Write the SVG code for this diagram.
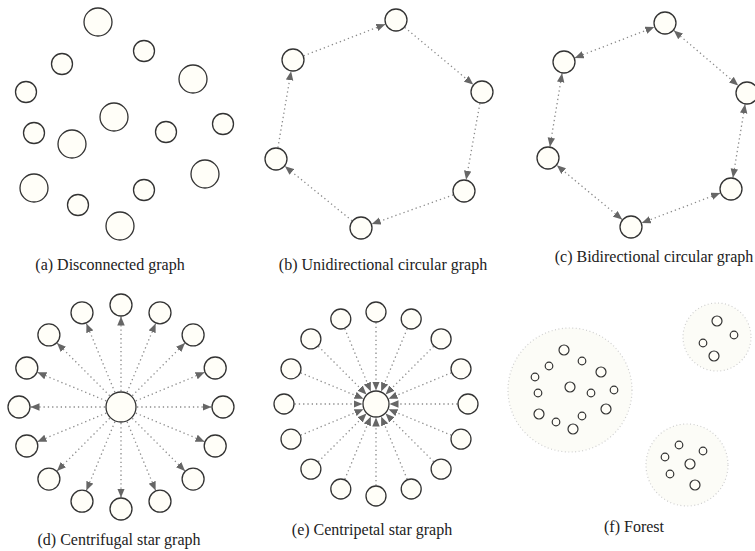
<svg xmlns="http://www.w3.org/2000/svg" width="755" height="551" viewBox="0 0 755 551">
<style>
.n{fill:#fffef8;stroke:#333;stroke-width:1.3}
.s{fill:#fffef8;stroke:#333;stroke-width:1.2}
.e{fill:none;stroke:#8a8a8a;stroke-width:1.3;stroke-dasharray:1.3 3}
.a{marker-end:url(#ah)}
.bi{marker-start:url(#ah);marker-end:url(#ah)}
.cl{fill:#fcfcf7;stroke:#cfcfcf;stroke-width:1.2;stroke-dasharray:1 2.5}
.lb{font-family:"Liberation Serif","Times New Roman",serif;font-size:16px;fill:#222;text-anchor:middle}
</style>
<defs>
<marker id="ah" markerUnits="userSpaceOnUse" markerWidth="9" markerHeight="8" refX="9" refY="3.75" orient="auto-start-reverse">
<path d="M0,0 L9,3.75 L0,7.5 z" fill="#666"/>
</marker>
</defs>
<rect width="755" height="551" fill="#fff"/>

<!-- (a) Disconnected graph -->
<g id="a1"><circle class="n" cx="98" cy="22" r="14"/></g>
<g id="a2"><circle class="n" cx="144" cy="51" r="10.5"/></g>
<g id="a3"><circle class="n" cx="62" cy="64" r="10.5"/></g>
<g id="a4"><circle class="n" cx="193" cy="79" r="14"/></g>
<g id="a5"><circle class="n" cx="26" cy="92" r="10.5"/></g>
<g id="a6"><circle class="n" cx="114" cy="117" r="14"/></g>
<g id="a7"><circle class="n" cx="34" cy="133" r="10.5"/></g>
<g id="a8"><circle class="n" cx="72" cy="144" r="14"/></g>
<g id="a9"><circle class="n" cx="166" cy="132" r="10.5"/></g>
<g id="a10"><circle class="n" cx="223" cy="124" r="10.5"/></g>
<g id="a11"><circle class="n" cx="205" cy="174" r="14"/></g>
<g id="a12"><circle class="n" cx="34" cy="188" r="14"/></g>
<g id="a13"><circle class="n" cx="144" cy="190" r="10.5"/></g>
<g id="a14"><circle class="n" cx="78" cy="205" r="10.5"/></g>
<g id="a15"><circle class="n" cx="120" cy="226" r="14"/></g>
<text class="lb" x="110" y="270">(a) Disconnected graph</text>

<!-- (b) Unidirectional circular graph -->
<g id="b-edges">
<line class="e a" x1="303.7" y1="55.8" x2="385.3" y2="24.2"/>
<line class="e a" x1="404.8" y1="27.4" x2="473.2" y2="84.6"/>
<line class="e a" x1="479.9" y1="103.3" x2="466.1" y2="179.7"/>
<line class="e a" x1="453.2" y1="194.9" x2="371.8" y2="224.1"/>
<line class="e a" x1="352.1" y1="220.8" x2="284.9" y2="166.2"/>
<line class="e a" x1="277.9" y1="147.7" x2="291.1" y2="71.3"/>
</g>
<g id="b1"><circle class="n" cx="293" cy="60" r="11"/></g>
<g id="b2"><circle class="n" cx="396" cy="20" r="11"/></g>
<g id="b3"><circle class="n" cx="482" cy="92" r="11"/></g>
<g id="b4"><circle class="n" cx="464" cy="191" r="11"/></g>
<g id="b5"><circle class="n" cx="361" cy="228" r="11"/></g>
<g id="b6"><circle class="n" cx="276" cy="159" r="11"/></g>
<text class="lb" x="383" y="270">(b) Unidirectional circular graph</text>

<!-- (c) Bidirectional circular graph -->
<g id="c-edges">
<line class="e bi" x1="673.8" y1="30.5" x2="738.2" y2="85.5"/>
<line class="e bi" x1="745.1" y1="104.3" x2="732.9" y2="177.7"/>
<line class="e bi" x1="720.2" y1="193.1" x2="641.8" y2="222.9"/>
<line class="e bi" x1="622.2" y1="219.6" x2="556.8" y2="165.3"/>
<line class="e bi" x1="549.9" y1="146.7" x2="562.1" y2="73.3"/>
<line class="e bi" x1="574.7" y1="57.9" x2="654.3" y2="27.1"/>
</g>
<g id="c1"><circle class="n" cx="665" cy="23" r="11"/></g>
<g id="c2"><circle class="n" cx="747" cy="93" r="11"/></g>
<g id="c3"><circle class="n" cx="731" cy="189" r="11"/></g>
<g id="c4"><circle class="n" cx="631" cy="227" r="11"/></g>
<g id="c5"><circle class="n" cx="548" cy="158" r="11"/></g>
<g id="c6"><circle class="n" cx="564" cy="62" r="11"/></g>
<text class="lb" x="654" y="262">(c) Bidirectional circular graph</text>

<!-- (d) Centrifugal star graph -->
<g id="d-edges" transform="translate(121 407)">
<line class="e a" x1="16" y1="0" x2="90.5" y2="0" transform="rotate(0)"/>
<line class="e a" x1="16" y1="0" x2="90.5" y2="0" transform="rotate(22.5)"/>
<line class="e a" x1="16" y1="0" x2="90.5" y2="0" transform="rotate(45)"/>
<line class="e a" x1="16" y1="0" x2="90.5" y2="0" transform="rotate(67.5)"/>
<line class="e a" x1="16" y1="0" x2="90.5" y2="0" transform="rotate(90)"/>
<line class="e a" x1="16" y1="0" x2="90.5" y2="0" transform="rotate(112.5)"/>
<line class="e a" x1="16" y1="0" x2="90.5" y2="0" transform="rotate(135)"/>
<line class="e a" x1="16" y1="0" x2="90.5" y2="0" transform="rotate(157.5)"/>
<line class="e a" x1="16" y1="0" x2="90.5" y2="0" transform="rotate(180)"/>
<line class="e a" x1="16" y1="0" x2="90.5" y2="0" transform="rotate(202.5)"/>
<line class="e a" x1="16" y1="0" x2="90.5" y2="0" transform="rotate(225)"/>
<line class="e a" x1="16" y1="0" x2="90.5" y2="0" transform="rotate(247.5)"/>
<line class="e a" x1="16" y1="0" x2="90.5" y2="0" transform="rotate(270)"/>
<line class="e a" x1="16" y1="0" x2="90.5" y2="0" transform="rotate(292.5)"/>
<line class="e a" x1="16" y1="0" x2="90.5" y2="0" transform="rotate(315)"/>
<line class="e a" x1="16" y1="0" x2="90.5" y2="0" transform="rotate(337.5)"/>
</g>
<g id="d0"><circle class="n" cx="121" cy="407" r="15"/></g>
<g id="d1"><circle class="n" cx="223" cy="407" r="11"/></g>
<g id="d2"><circle class="n" cx="215.2" cy="446" r="11"/></g>
<g id="d3"><circle class="n" cx="193.1" cy="479.1" r="11"/></g>
<g id="d4"><circle class="n" cx="160" cy="501.2" r="11"/></g>
<g id="d5"><circle class="n" cx="121" cy="509" r="11"/></g>
<g id="d6"><circle class="n" cx="82" cy="501.2" r="11"/></g>
<g id="d7"><circle class="n" cx="48.9" cy="479.1" r="11"/></g>
<g id="d8"><circle class="n" cx="26.8" cy="446" r="11"/></g>
<g id="d9"><circle class="n" cx="19" cy="407" r="11"/></g>
<g id="d10"><circle class="n" cx="26.8" cy="368" r="11"/></g>
<g id="d11"><circle class="n" cx="48.9" cy="334.9" r="11"/></g>
<g id="d12"><circle class="n" cx="82" cy="312.8" r="11"/></g>
<g id="d13"><circle class="n" cx="121" cy="305" r="11"/></g>
<g id="d14"><circle class="n" cx="160" cy="312.8" r="11"/></g>
<g id="d15"><circle class="n" cx="193.1" cy="334.9" r="11"/></g>
<g id="d16"><circle class="n" cx="215.2" cy="368" r="11"/></g>
<text class="lb" x="119" y="545">(d) Centrifugal star graph</text>

<!-- (e) Centripetal star graph -->
<g id="e-edges" transform="translate(376 404)">
<line class="e a" x1="81.5" y1="0" x2="13.5" y2="0" transform="rotate(0)"/>
<line class="e a" x1="81.5" y1="0" x2="13.5" y2="0" transform="rotate(22.5)"/>
<line class="e a" x1="81.5" y1="0" x2="13.5" y2="0" transform="rotate(45)"/>
<line class="e a" x1="81.5" y1="0" x2="13.5" y2="0" transform="rotate(67.5)"/>
<line class="e a" x1="81.5" y1="0" x2="13.5" y2="0" transform="rotate(90)"/>
<line class="e a" x1="81.5" y1="0" x2="13.5" y2="0" transform="rotate(112.5)"/>
<line class="e a" x1="81.5" y1="0" x2="13.5" y2="0" transform="rotate(135)"/>
<line class="e a" x1="81.5" y1="0" x2="13.5" y2="0" transform="rotate(157.5)"/>
<line class="e a" x1="81.5" y1="0" x2="13.5" y2="0" transform="rotate(180)"/>
<line class="e a" x1="81.5" y1="0" x2="13.5" y2="0" transform="rotate(202.5)"/>
<line class="e a" x1="81.5" y1="0" x2="13.5" y2="0" transform="rotate(225)"/>
<line class="e a" x1="81.5" y1="0" x2="13.5" y2="0" transform="rotate(247.5)"/>
<line class="e a" x1="81.5" y1="0" x2="13.5" y2="0" transform="rotate(270)"/>
<line class="e a" x1="81.5" y1="0" x2="13.5" y2="0" transform="rotate(292.5)"/>
<line class="e a" x1="81.5" y1="0" x2="13.5" y2="0" transform="rotate(315)"/>
<line class="e a" x1="81.5" y1="0" x2="13.5" y2="0" transform="rotate(337.5)"/>
</g>
<g id="e0"><circle class="n" cx="376" cy="404" r="13"/></g>
<g id="e1"><circle class="n" cx="468" cy="404" r="10"/></g>
<g id="e2"><circle class="n" cx="461" cy="439.2" r="10"/></g>
<g id="e3"><circle class="n" cx="441.1" cy="469.1" r="10"/></g>
<g id="e4"><circle class="n" cx="411.2" cy="489" r="10"/></g>
<g id="e5"><circle class="n" cx="376" cy="496" r="10"/></g>
<g id="e6"><circle class="n" cx="340.8" cy="489" r="10"/></g>
<g id="e7"><circle class="n" cx="310.9" cy="469.1" r="10"/></g>
<g id="e8"><circle class="n" cx="291" cy="439.2" r="10"/></g>
<g id="e9"><circle class="n" cx="284" cy="404" r="10"/></g>
<g id="e10"><circle class="n" cx="291" cy="368.8" r="10"/></g>
<g id="e11"><circle class="n" cx="310.9" cy="338.9" r="10"/></g>
<g id="e12"><circle class="n" cx="340.8" cy="319" r="10"/></g>
<g id="e13"><circle class="n" cx="376" cy="312" r="10"/></g>
<g id="e14"><circle class="n" cx="411.2" cy="319" r="10"/></g>
<g id="e15"><circle class="n" cx="441.1" cy="338.9" r="10"/></g>
<g id="e16"><circle class="n" cx="461" cy="368.8" r="10"/></g>
<text class="lb" x="372" y="535">(e) Centripetal star graph</text>

<!-- (f) Forest -->
<g id="tree1">
<circle class="cl" cx="570" cy="390" r="62"/>
<circle class="s" cx="564" cy="350" r="5"/>
<circle class="s" cx="582" cy="361" r="3.8"/>
<circle class="s" cx="549" cy="366" r="3.8"/>
<circle class="s" cx="601" cy="372" r="5"/>
<circle class="s" cx="535" cy="377" r="3.8"/>
<circle class="s" cx="570" cy="387" r="5"/>
<circle class="s" cx="591" cy="393" r="3.8"/>
<circle class="s" cx="614" cy="390" r="3.8"/>
<circle class="s" cx="538" cy="393" r="3.8"/>
<circle class="s" cx="539" cy="414" r="5"/>
<circle class="s" cx="556" cy="422" r="3.8"/>
<circle class="s" cx="582" cy="416" r="3.8"/>
<circle class="s" cx="606" cy="409" r="5"/>
<circle class="s" cx="573" cy="429" r="5"/>
</g>
<g id="tree2">
<circle class="cl" cx="717" cy="337" r="34"/>
<circle class="s" cx="717" cy="321" r="5"/>
<circle class="s" cx="734" cy="335" r="3.8"/>
<circle class="s" cx="703" cy="343" r="3.8"/>
<circle class="s" cx="714" cy="356" r="5"/>
</g>
<g id="tree3">
<circle class="cl" cx="687" cy="465" r="41"/>
<circle class="s" cx="679" cy="445" r="3.8"/>
<circle class="s" cx="703" cy="451" r="3.8"/>
<circle class="s" cx="665" cy="457" r="3.8"/>
<circle class="s" cx="690" cy="464" r="5"/>
<circle class="s" cx="670" cy="474" r="3.8"/>
<circle class="s" cx="695" cy="485" r="5"/>
</g>
<text class="lb" x="634" y="532">(f) Forest</text>
</svg>
